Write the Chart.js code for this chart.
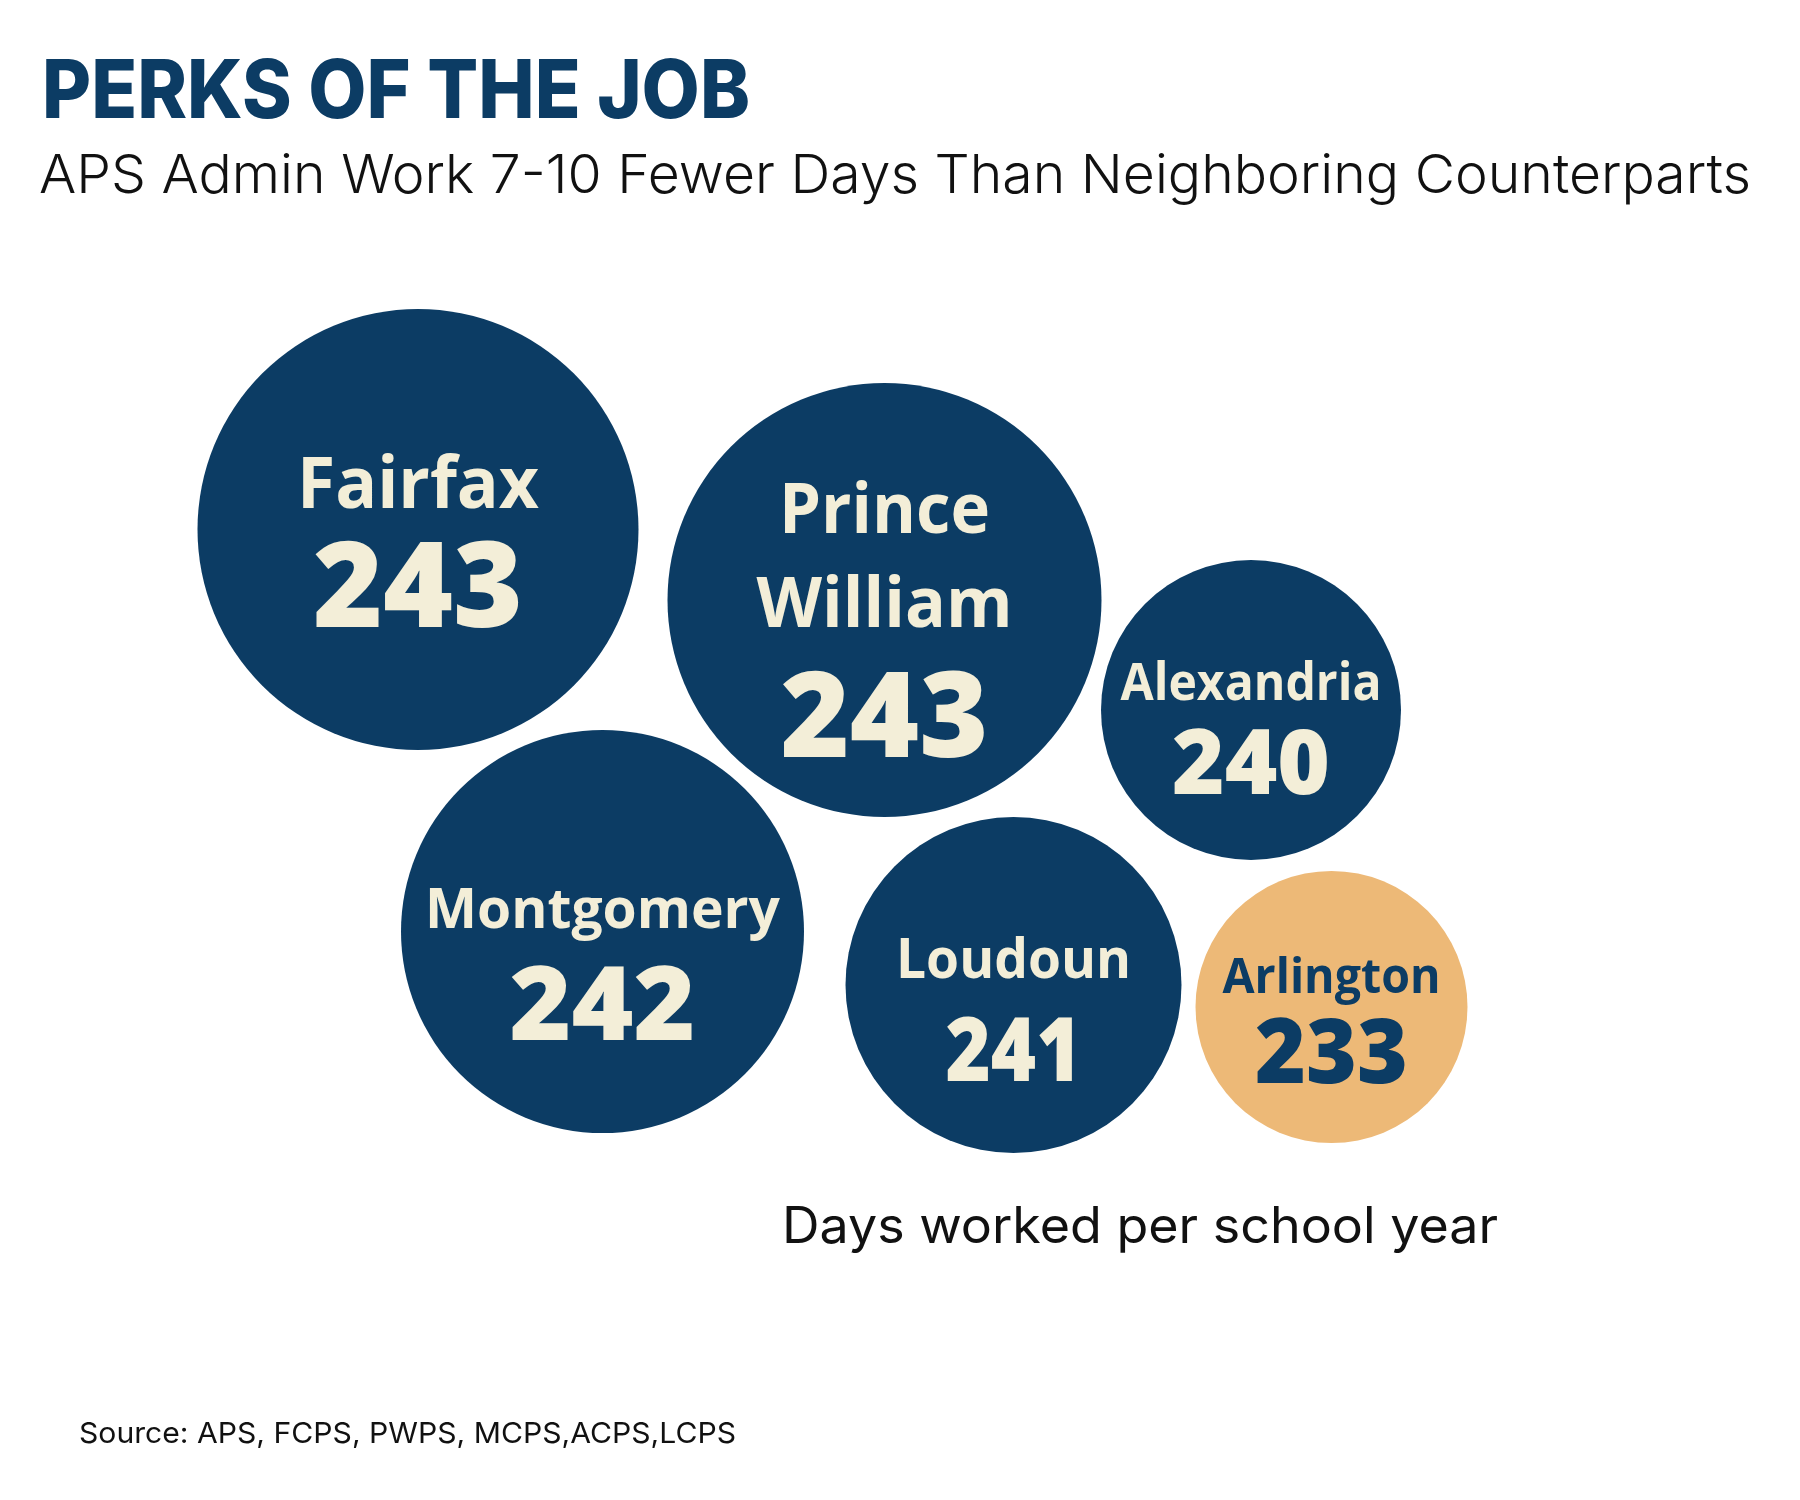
<!DOCTYPE html>
<html>
<head>
<meta charset="utf-8">
<script src="https://cdn.jsdelivr.net/npm/chart.js@4.4.1/dist/chart.umd.min.js"></script>
<style>
  html, body { margin: 0; padding: 0; background: #ffffff; }
  #wrap { position: relative; width: 1800px; height: 1500px; }
  canvas { display: block; }
</style>
</head>
<body>
<div id="wrap"><canvas id="c" width="1800" height="1500"></canvas></div>
<script>
// ---- data ----
const categories = ['Fairfax', 'Prince William', 'Alexandria', 'Montgomery', 'Loudoun', 'Arlington'];
const daysWorked = [243, 243, 240, 242, 241, 233];
const highlight = ['Arlington'];

const titleText = 'PERKS OF THE JOB';
const subtitleText = 'APS Admin Work 7-10 Fewer Days Than Neighboring Counterparts';
const noteText = 'Days worked per school year';
const sourceText = 'Source: APS, FCPS, PWPS, MCPS,ACPS,LCPS';

// ---- layout (packed-bubble placement, in layout units) ----
const bubbleX = [418, 884.5, 1251, 602.5, 1013.5, 1331.5];
const bubbleY = [529.5, 600, 710, 931.5, 985, 1007];
const bubbleR = [220.5, 217, 150, 201.5, 168, 136];
// label line breaks and text styling per bubble
const labelLines = { 'Prince William': ['Prince', 'William'] };
const labelSize = [71, 70, 52, 56, 56, 48];
const labelWidth = [[242], [211, 256], [261], [355], [235], [218]];
const numberSize = [119, 119, 90, 102, 88, 91];
const numberWidth = [210, 208, 158, 186, 136, 153];
const labelBase = [[-21.5], [-67, 27], [-10], [-3.5], [-7], [-14]];
const numberBase = [97.5, 157, 84, 108.5, 96, 76];

const NAVY = '#0c3c64';
const CREAM = '#f3eed8';
const GOLD = '#edb977';

const points = categories.map((c, i) => ({ x: bubbleX[i], y: bubbleY[i], r: bubbleR[i], v: daysWorked[i], name: c }));

function fitText(ctx, text, x, y, targetWidth) {
  const w = ctx.measureText(text).width;
  const sx = targetWidth ? targetWidth / w : 1;
  ctx.save();
  ctx.translate(x, y);
  ctx.scale(sx, 1);
  ctx.fillText(text, 0, 0);
  ctx.restore();
}

const textPlugin = {
  id: 'textPlugin',
  afterDatasetsDraw(chart) {
    const ctx = chart.ctx;
    const meta = chart.getDatasetMeta(0);
    ctx.save();
    ctx.textBaseline = 'alphabetic';
    // bubble labels
    meta.data.forEach((el, i) => {
      const name = categories[i];
      const lines = labelLines[name] || [name];
      const isHi = highlight.includes(name);
      ctx.fillStyle = isHi ? NAVY : CREAM;
      ctx.textAlign = 'center';
      ctx.font = `700 ${labelSize[i]}px "Open Sans"`;
      lines.forEach((ln, k) => fitText(ctx, ln, el.x, el.y + labelBase[i][k], labelWidth[i][k]));
      ctx.font = `800 ${numberSize[i]}px "Open Sans"`;
      fitText(ctx, String(daysWorked[i]), el.x, el.y + numberBase[i], numberWidth[i]);
    });
    // headings
    ctx.textAlign = 'left';
    ctx.fillStyle = NAVY;
    ctx.font = '800 81px Inter';
    fitText(ctx, titleText, 42, 118, 708);
    ctx.fillStyle = '#111111';
    ctx.font = '300 54px Inter';
    fitText(ctx, subtitleText, 39, 193, 1712);
    ctx.font = '400 50px Inter';
    fitText(ctx, noteText, 782, 1243, 716);
    ctx.font = '400 29px Inter';
    fitText(ctx, sourceText, 79, 1443, 657);
    ctx.restore();
  }
};

new Chart(document.getElementById('c'), {
  type: 'bubble',
  data: {
    datasets: [{
      label: 'Days worked per school year',
      data: points,
      backgroundColor: categories.map(c => highlight.includes(c) ? GOLD : NAVY),
      borderWidth: 0,
      hoverBorderWidth: 0,
      hoverRadius: 0,
      clip: false
    }]
  },
  options: {
    responsive: false,
    animation: false,
    devicePixelRatio: 1,
    layout: { padding: 0, autoPadding: false },
    plugins: { legend: { display: false }, tooltip: { enabled: false } },
    events: [],
    scales: {
      x: { type: 'linear', min: 0, max: 1800, display: false },
      y: { type: 'linear', min: 0, max: 1500, reverse: true, display: false }
    }
  },
  plugins: [textPlugin]
});
</script>
</body>
</html>
